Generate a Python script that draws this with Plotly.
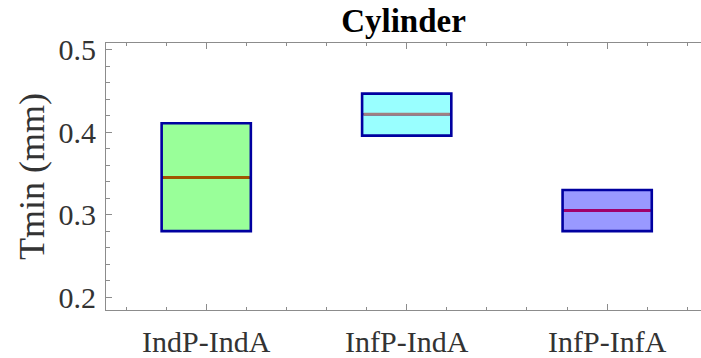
import plotly.graph_objects as go

# Tmin statistics per configuration (mm)
categories = ["IndP-IndA", "InfP-IndA", "InfP-InfA"]
q1_vals = [0.280, 0.396, 0.280]
median_vals = [0.345, 0.422, 0.305]
q3_vals = [0.411, 0.447, 0.330]

fill_colors = ["#99ff99", "#99ffff", "#9999ff"]
median_colors = ["#a05500", "#a08080", "#a0006a"]
edge_color = "#0000a0"
box_width = 0.445

serif = "Liberation Serif"
axis_grey = "#8c8c8c"

fig = go.Figure()
positions = list(range(1, len(categories) + 1))

for pos, name, lo, med, hi, fc in zip(positions, categories, q1_vals, median_vals, q3_vals, fill_colors):
    fig.add_trace(go.Box(
        x=[pos], q1=[lo], median=[med], q3=[hi],
        lowerfence=[lo], upperfence=[hi],
        width=box_width, fillcolor=fc,
        line=dict(color=edge_color, width=2.6),
        name=name, showlegend=False, hoverinfo="skip",
    ))

# Median lines drawn on top in their own colours
for pos, med, mc in zip(positions, median_vals, median_colors):
    half = box_width / 2 - 0.007
    fig.add_trace(go.Scatter(
        x=[pos - half, pos + half], y=[med, med], mode="lines",
        line=dict(color=mc, width=3), showlegend=False, hoverinfo="skip",
    ))

fig.update_layout(
    width=701, height=358,
    margin=dict(l=106, r=0, t=43, b=45),
    paper_bgcolor="white", plot_bgcolor="white",
    font=dict(family=serif, size=30, color="#333333"),
    title=dict(text="<b>Cylinder</b>", x=0.5, xanchor="center", xref="paper",
               y=0.975, yanchor="top",
               font=dict(family=serif, size=33, color="#000000")),
)

fig.update_xaxes(
    range=[0.5, 3.468], tickmode="array", tickvals=positions, ticktext=categories,
    showline=True, linecolor=axis_grey, linewidth=1, mirror="allticks",
    ticks="inside", ticklen=6, tickcolor=axis_grey, tickwidth=1,
    minor=dict(ticks="inside", ticklen=3, tickcolor=axis_grey, tickmode="linear",
               tick0=0, dtick=0.2, showgrid=False),
    showgrid=False, zeroline=False, ticklabelstandoff=5,
)

fig.update_yaxes(
    range=[0.1843, 0.5084], tickmode="array", tickvals=[0.2, 0.3, 0.4, 0.5],
    ticktext=["0.2", "0.3", "0.4", "0.5"],
    showline=True, linecolor=axis_grey, linewidth=1, mirror=False,
    ticks="inside", ticklen=6, tickcolor=axis_grey, tickwidth=1,
    minor=dict(ticks="inside", ticklen=4, tickcolor=axis_grey, tickmode="linear",
               tick0=0, dtick=0.02, showgrid=False),
    showgrid=False, zeroline=False, ticklabelstandoff=3,
    title=dict(text="Tmin (mm)", font=dict(family=serif, size=36, color="#333333"),
               standoff=2),
)

fig.write_html("out.html")
